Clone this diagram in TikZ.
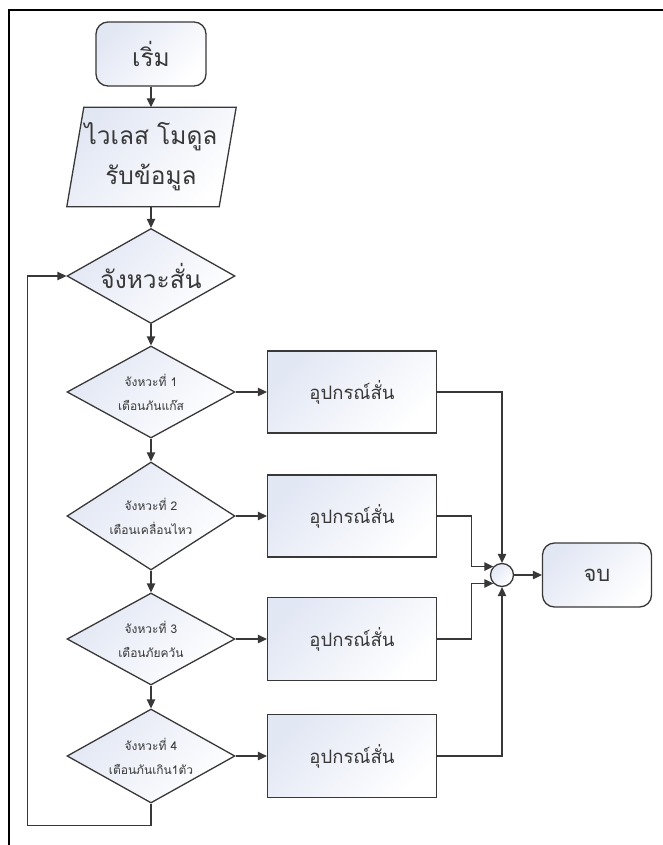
\documentclass[tikz,border=0pt]{standalone}
\usepackage{fontspec}
\newfontfamily\thaifont[Script=Thai]{Loma}
\usetikzlibrary{shapes.geometric,arrows.meta}
\definecolor{linec}{HTML}{383838}
\definecolor{fillc}{HTML}{E2E7F4}
\definecolor{textc}{HTML}{383838}
\pgfdeclarelayer{bg}
\pgfsetlayers{bg,main}
\begin{document}
\begin{tikzpicture}[x=1pt,y=-1pt,
  shp/.style={draw=linec, line width=1.3pt, top color=fillc, bottom color=white, shading angle=45},
  bigf/.style={font=\thaifont\fontsize{24.5}{40}\selectfont, text=textc},
  term/.style={shp, rounded corners=12pt, bigf, inner sep=0pt},
  boxnode/.style={shp, font=\thaifont\fontsize{18.5}{20}\selectfont, text=textc, inner sep=0pt, minimum width=169, minimum height=82},
  dec/.style={diamond, shp, inner sep=0pt, minimum width=168},
  dtext/.style={font=\thaifont\fontsize{12}{24}\selectfont, text=textc, align=center},
  arr/.style={draw=linec, line width=1.3pt, -{Triangle[length=9pt,width=8.5pt]}},
  ln/.style={draw=linec, line width=1.3pt}
]
\useasboundingbox (0,0) rectangle (663,845);
\draw[line width=1.8pt, black] (9,845) -- (9,10) -- (663,10);

\node[term, minimum width=110, minimum height=64] (start) at (151,54) {เริ่ม};

\node[bigf, align=center, minimum width=152, minimum height=99, inner sep=0pt] (io) at (151,157) {ไวเลส โมดูล\\รับข้อมูล};
\begin{pgfonlayer}{bg}
\draw[shp] ([xshift=9pt]io.north west) -- ([xshift=9pt]io.north east) -- ([xshift=-8pt]io.south east) -- ([xshift=-8pt]io.south west) -- cycle;
\end{pgfonlayer}

\node[dec, minimum height=95, label={[bigf]center:จังหวะสั่น}] (d0) at (151,276) {};
\node[dec, minimum height=92, label={[dtext]center:{จังหวะที่ 1\\เตือนภันแก๊ส}}] (d1) at (151,392) {};
\node[dec, minimum height=108, label={[dtext]center:{จังหวะที่ 2\\เตือนเคลื่อนไหว}}] (d2) at (151,516) {};
\node[dec, minimum height=92, label={[dtext]center:{จังหวะที่ 3\\เตือนภัยควัน}}] (d3) at (151,639) {};
\node[dec, minimum height=94, label={[dtext]center:{จังหวะที่ 4\\เตือนภันเกิน1ตัว}}] (d4) at (151,756) {};

\node[boxnode] (b1) at (352,392) {อุปกรณ์สั่น};
\node[boxnode] (b2) at (352,516) {อุปกรณ์สั่น};
\node[boxnode, minimum height=83] (b3) at (352,639) {อุปกรณ์สั่น};
\node[boxnode, minimum height=83] (b4) at (352,756) {อุปกรณ์สั่น};

\node[circle, shp, minimum size=23, inner sep=0pt] (j) at (502,575) {};
\node[term, font=\thaifont\fontsize{22}{24}\selectfont, minimum width=109, minimum height=64] (end) at (597,575) {จบ};

\draw[arr] (start) -- (io);
\draw[arr] (io) -- (d0);
\draw[arr] (d0) -- (d1);
\draw[arr] (d1) -- (d2);
\draw[arr] (d2) -- (d3);
\draw[arr] (d3) -- (d4);
\draw[arr] (d1) -- (b1);
\draw[arr] (d2) -- (b2);
\draw[arr] (d3) -- (b3);
\draw[arr] (d4) -- (b4);
\draw[arr] (b1.east) -| (j.north);
\draw[arr] (b2.east) -- ++(34,0) |- (j.136);
\draw[arr] (b3.east) -- ++(34,0) |- (j.224);
\draw[arr] (b4.east) -| (j.south);
\draw[arr] (j) -- (end);
\draw[arr] (d4.south) -- ++(0,22) -| ([xshift=-39pt]d0.west) -- (d0.west);
\end{tikzpicture}
\end{document}
